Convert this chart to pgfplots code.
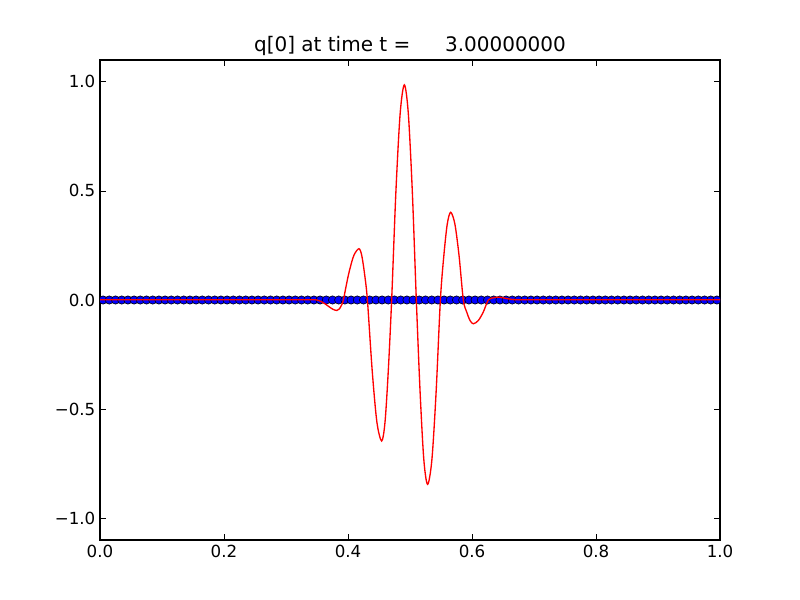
\documentclass[border=0pt]{standalone}
\usepackage{fontspec}
\setmainfont{DejaVu Sans}
\usepackage{pgfplots}
\pgfplotsset{compat=1.18}
\begin{document}
\begin{tikzpicture}
\path[use as bounding box] (0,0) rectangle (600pt,450pt);
\begin{axis}[
  at={(75pt,45pt)}, anchor=south west,
  scale only axis, width=465pt, height=360pt,
  xmin=0, xmax=1, ymin=-1.1, ymax=1.1,
  clip marker paths=true,
  xtick={0,0.2,0.4,0.6,0.8,1},
  xticklabels={0.0,0.2,0.4,0.6,0.8,1.0},
  ytick={-1,-0.5,0,0.5,1},
  yticklabels={−1.0,−0.5,0.0,0.5,1.0},
  tick align=inside, major tick length=4.2pt,
  tick style={black, line width=0.6pt},
  axis line style={line width=0.8pt},
  ticklabel style={font=\fontsize{12.5}{15}\selectfont},
  title={q[0] at time t =\hspace{26pt}3.00000000},
  title style={font=\fontsize{15}{18}\selectfont, yshift=-6pt},
]
\addplot[only marks, mark=*, mark size=3.1pt, mark options={fill=blue, draw=black, line width=0.45pt}] coordinates {
(0.005,0) (0.015,0) (0.025,0) (0.035,0) (0.045,0) (0.055,0) (0.065,0) (0.075,0) (0.085,0) (0.095,0)
(0.105,0) (0.115,0) (0.125,0) (0.135,0) (0.145,0) (0.155,0) (0.165,0) (0.175,0) (0.185,0) (0.195,0)
(0.205,0) (0.215,0) (0.225,0) (0.235,0) (0.245,0) (0.255,0) (0.265,0) (0.275,0) (0.285,0) (0.295,0)
(0.305,0) (0.315,0) (0.325,0) (0.335,0) (0.345,0) (0.355,0) (0.365,0) (0.375,0) (0.385,0) (0.395,0)
(0.405,0) (0.415,0) (0.425,0) (0.435,0) (0.445,0) (0.455,0) (0.465,0) (0.475,0) (0.485,0) (0.495,0)
(0.505,0) (0.515,0) (0.525,0) (0.535,0) (0.545,0) (0.555,0) (0.565,0) (0.575,0) (0.585,0) (0.595,0)
(0.605,0) (0.615,0) (0.625,0) (0.635,0) (0.645,0) (0.655,0) (0.665,0) (0.675,0) (0.685,0) (0.695,0)
(0.705,0) (0.715,0) (0.725,0) (0.735,0) (0.745,0) (0.755,0) (0.765,0) (0.775,0) (0.785,0) (0.795,0)
(0.805,0) (0.815,0) (0.825,0) (0.835,0) (0.845,0) (0.855,0) (0.865,0) (0.875,0) (0.885,0) (0.895,0)
(0.905,0) (0.915,0) (0.925,0) (0.935,0) (0.945,0) (0.955,0) (0.965,0) (0.975,0) (0.985,0) (0.995,0)
};
\addplot[red, line width=1pt, smooth, tension=0.5] coordinates {
(0,0.001) (0.1,0.001) (0.2,0.001) (0.3,0.001) (0.34,0.001) (0.35,0.0) (0.36,-0.012) (0.37,-0.032)
(0.376,-0.043) (0.382,-0.048) (0.386,-0.041) (0.3895,-0.024) (0.3925,0)
(0.4009,0.1175) (0.4093,0.2035) (0.4177,0.235) (0.4222,0.2035) (0.4268,0.1175) (0.4313,0)
(0.439,-0.323) (0.4466,-0.5595) (0.4543,-0.646) (0.4597,-0.5595) (0.465,-0.323) (0.4704,0)
(0.4772,0.493) (0.4841,0.854) (0.4909,0.986) (0.4973,0.854) (0.5038,0.493) (0.5102,0)
(0.5163,-0.4225) (0.5223,-0.732) (0.5284,-0.845) (0.5353,-0.732) (0.5421,-0.4225) (0.549,0)
(0.5545,0.201) (0.5601,0.348) (0.5656,0.402) (0.5724,0.348) (0.5792,0.201) (0.586,0)
(0.5914,-0.0545) (0.5968,-0.094) (0.6022,-0.109) (0.6102,-0.094) (0.6183,-0.0545) (0.6263,0)
(0.6345,0.01) (0.6425,0.013) (0.650,0.01) (0.661,0.004) (0.68,0.001) (0.8,0.001) (1.0,0.001)
};
\end{axis}
\end{tikzpicture}
\end{document}
